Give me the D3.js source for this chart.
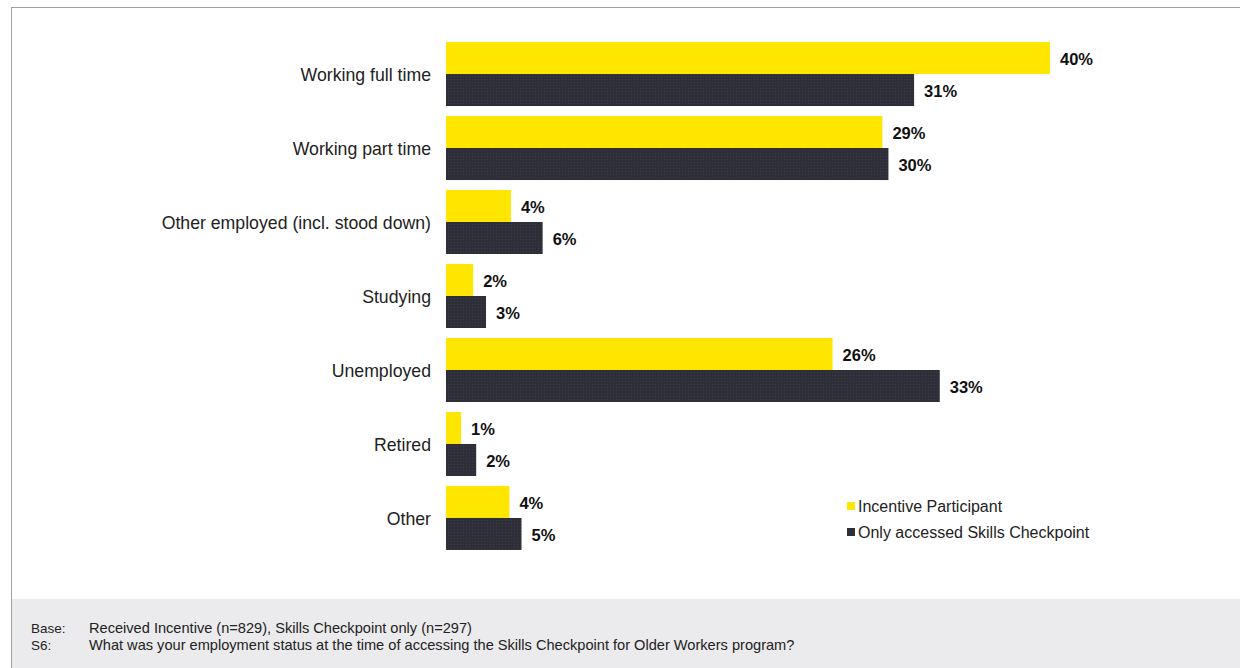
<!DOCTYPE html>
<html><head><meta charset="utf-8">
<script src="https://cdn.jsdelivr.net/npm/d3@7/dist/d3.min.js"></script>
<style>html,body{margin:0;padding:0;background:#fff;}svg{display:block;font-family:"Liberation Sans",Arial,sans-serif;}</style>
</head><body>
<svg id="chart" width="1240" height="668"></svg>
<script>
const categories = ["Working full time","Working part time","Other employed (incl. stood down)","Studying","Unemployed","Retired","Other"];
const seriesNames = ["Incentive Participant","Only accessed Skills Checkpoint"];
const incentiveValues = [40, 28.9, 4.3, 1.8, 25.6, 1.0, 4.2];
const checkpointValues = [31, 29.3, 6.4, 2.65, 32.7, 2.0, 5.0];
const incentiveLabels = ["40%","29%","4%","2%","26%","1%","4%"];
const checkpointLabels = ["31%","30%","6%","3%","33%","2%","5%"];
const footerKeys = ["Base:","S6:"];
const footerTexts = ["Received Incentive (n=829), Skills Checkpoint only (n=297)","What was your employment status at the time of accessing the Skills Checkpoint for Older Workers  program?"];

const svg = d3.select("#chart");
const defs = svg.append("defs");
const pat = defs.append("pattern").attr("id","dots").attr("width",3).attr("height",3).attr("patternUnits","userSpaceOnUse");
pat.append("rect").attr("width",3).attr("height",3).attr("fill","#2e2e38");
pat.append("rect").attr("x",1).attr("y",1).attr("width",1).attr("height",1).attr("fill","#3c3c46");

// frame
svg.append("line").attr("x1",11).attr("x2",1240).attr("y1",7.5).attr("y2",7.5).attr("stroke","#a0a0a0");
svg.append("line").attr("x1",11.5).attr("x2",11.5).attr("y1",7).attr("y2",668).attr("stroke","#a0a0a0");
// footer band
svg.append("rect").attr("x",12).attr("y",599).attr("width",1228).attr("height",69).attr("fill","#ebebed");

const x = d3.scaleLinear().domain([0,40]).range([446,1050]);
const y = d3.scaleBand().domain(categories).range([37,555]).paddingInner(0.135).paddingOuter(0.068);
const ySub = d3.scaleBand().domain(seriesNames).range([0,y.bandwidth()]);

const data = categories.map((c,i)=>({c, vals:[
  {s:seriesNames[0], v:incentiveValues[i], l:incentiveLabels[i]},
  {s:seriesNames[1], v:checkpointValues[i], l:checkpointLabels[i]}]}));
const fills = {[seriesNames[0]]:"#ffe600",[seriesNames[1]]:"url(#dots)"};

const g = svg.selectAll("g.cat").data(data).join("g").attr("class","cat")
  .attr("transform",d=>`translate(0,${y(d.c)})`);
g.selectAll("rect").data(d=>d.vals).join("rect")
  .attr("x",x(0)).attr("y",d=>ySub(d.s)).attr("width",d=>x(d.v)-x(0)).attr("height",ySub.bandwidth())
  .attr("fill",d=>fills[d.s]);
g.selectAll("text.val").data(d=>d.vals).join("text").attr("class","val")
  .attr("x",d=>x(d.v)+10).attr("y",d=>ySub(d.s)+ySub.bandwidth()/2+1).attr("dy","0.35em")
  .attr("font-size",16.5).attr("font-weight","bold").attr("fill","#111").text(d=>d.l);

// category axis
const axis = svg.append("g").attr("transform",`translate(${x(0)},0)`)
  .call(d3.axisLeft(y).tickSize(0).tickPadding(15));
axis.select(".domain").remove();
axis.selectAll("text").attr("font-size",17.7).attr("fill","#222").attr("font-family","'Liberation Sans',Arial,sans-serif").attr("dy","0.4em");

// legend
const lg = svg.append("g").selectAll("g").data(seriesNames).join("g")
  .attr("transform",(d,i)=>`translate(847,${506+i*26})`);
lg.append("rect").attr("x",0).attr("y",-4).attr("width",8).attr("height",8).attr("fill",d=>d===seriesNames[0]?"#ffe600":"#2e2e38");
lg.append("text").attr("x",11).attr("dy","0.35em").attr("font-size",16).attr("fill","#222").text(d=>d);

// footer
const ft = svg.append("g").selectAll("g").data(footerKeys).join("g")
  .attr("transform",(d,i)=>`translate(0,${628+i*17})`);
ft.append("text").attr("x",31).attr("dy","0.35em").attr("font-size",13.5).attr("fill","#222").text(d=>d);
ft.append("text").attr("x",89).attr("dy","0.35em").attr("font-size",14.6).attr("textLength",null).attr("fill","#222").text((d,i)=>footerTexts[i]);
</script>
</body></html>
